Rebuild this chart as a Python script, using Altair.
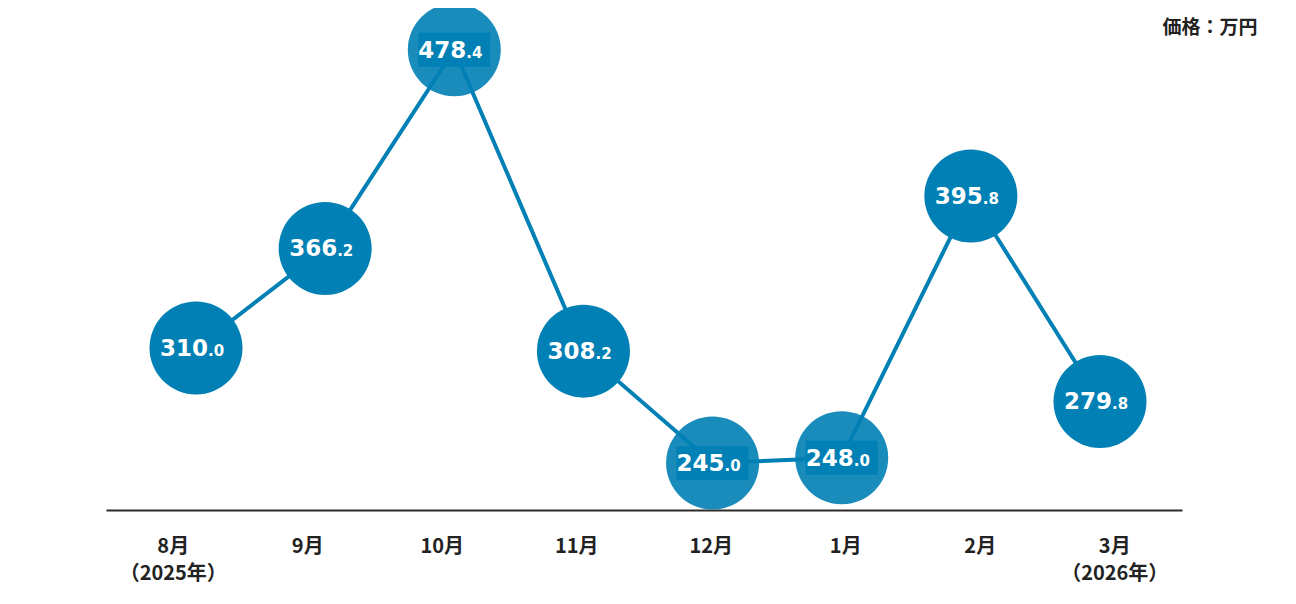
import altair as alt
import pandas as pd

months = ["8月\n（2025年）", "9月", "10月", "11月", "12月", "1月", "2月", "3月\n（2026年）"]
values = [310.0, 366.2, 478.4, 308.2, 245.0, 248.0, 395.8, 279.8]
boxed = [False, False, True, False, True, True, False, False]

BLUE = "#0080b4"

df = pd.DataFrame({
    "month": months,
    "value": values,
    "boxed": boxed,
    "int": [f"{v:.1f}".split(".")[0] for v in values],
    "dec": ["." + f"{v:.1f}".split(".")[1] for v in values],
})

W, H = 1076, 496

xp = alt.X("month:N", sort=months, scale=alt.Scale(type="point", range=[90, 994], padding=0), axis=None)
yq = alt.Y("value:Q", scale=alt.Scale(domain=[218.5, 498.6], zero=False, nice=False),
           axis=alt.Axis(orient="right", domain=False, ticks=False, labels=False, grid=False,
                         title="価格：万円", titleAngle=0, titleX=75, titleY=13,
                         titleAlign="right", titleBaseline="middle", titleFontSize=19,
                         titleFont="Noto Sans CJK JP", titleFontWeight="bold", titleColor="#222"))

base = alt.Chart(df)

axis_layer = base.mark_tick(opacity=0).encode(
    x=alt.X("month:N", sort=months, scale=alt.Scale(type="band", paddingInner=0, paddingOuter=0),
            axis=alt.Axis(title=None, ticks=False, grid=False, domainColor="#2b2b2b", domainWidth=2,
                          labelAngle=0, labelFont="Noto Sans CJK JP", labelFontSize=20,
                          labelFontWeight="bold", labelColor="#222", labelPadding=26,
                          labelLineHeight=27, labelBaseline="top",
                          labelExpr="split(datum.label, '\\n')")),
    y=alt.Y("value:Q"),
)

line = base.mark_line(color=BLUE, strokeWidth=4).encode(x=xp, y=yq)

circles = base.mark_circle(size=8650, color=BLUE).encode(
    x=xp, y=alt.Y("value:Q"),
    opacity=alt.condition("datum.boxed", alt.value(0.9), alt.value(1.0)),
)

boxes = base.transform_filter("datum.boxed").mark_point(
    shape="M-1,-0.47L1,-0.47L1,0.47L-1,0.47Z", size=5184, filled=True, color=BLUE, opacity=1
).encode(x=xp, y=alt.Y("value:Q"))

int_text = base.mark_text(align="right", baseline="alphabetic", dx=12, dy=8, font="DejaVu Sans",
                          fontWeight="bold", fontSize=23, color="white").encode(
    x=xp, y=alt.Y("value:Q"), text="int:N")

dec_text = base.mark_text(align="left", baseline="alphabetic", dx=12, dy=8, font="DejaVu Sans",
                          fontWeight="bold", fontSize=15, color="white").encode(
    x=xp, y=alt.Y("value:Q"), text="dec:N")

data_layers = alt.layer(line, circles, boxes, int_text, dec_text)

chart = alt.layer(axis_layer, data_layers).resolve_scale(x="independent").properties(
    width=W, height=H,
    autosize=alt.AutoSizeParams(type="none"),
    padding={"left": 98, "top": 6, "right": 100, "bottom": 86},
    background="white",
).configure_view(strokeOpacity=0, strokeWidth=0)

chart.save("out.html", embed_options={"renderer": "svg", "actions": False})
